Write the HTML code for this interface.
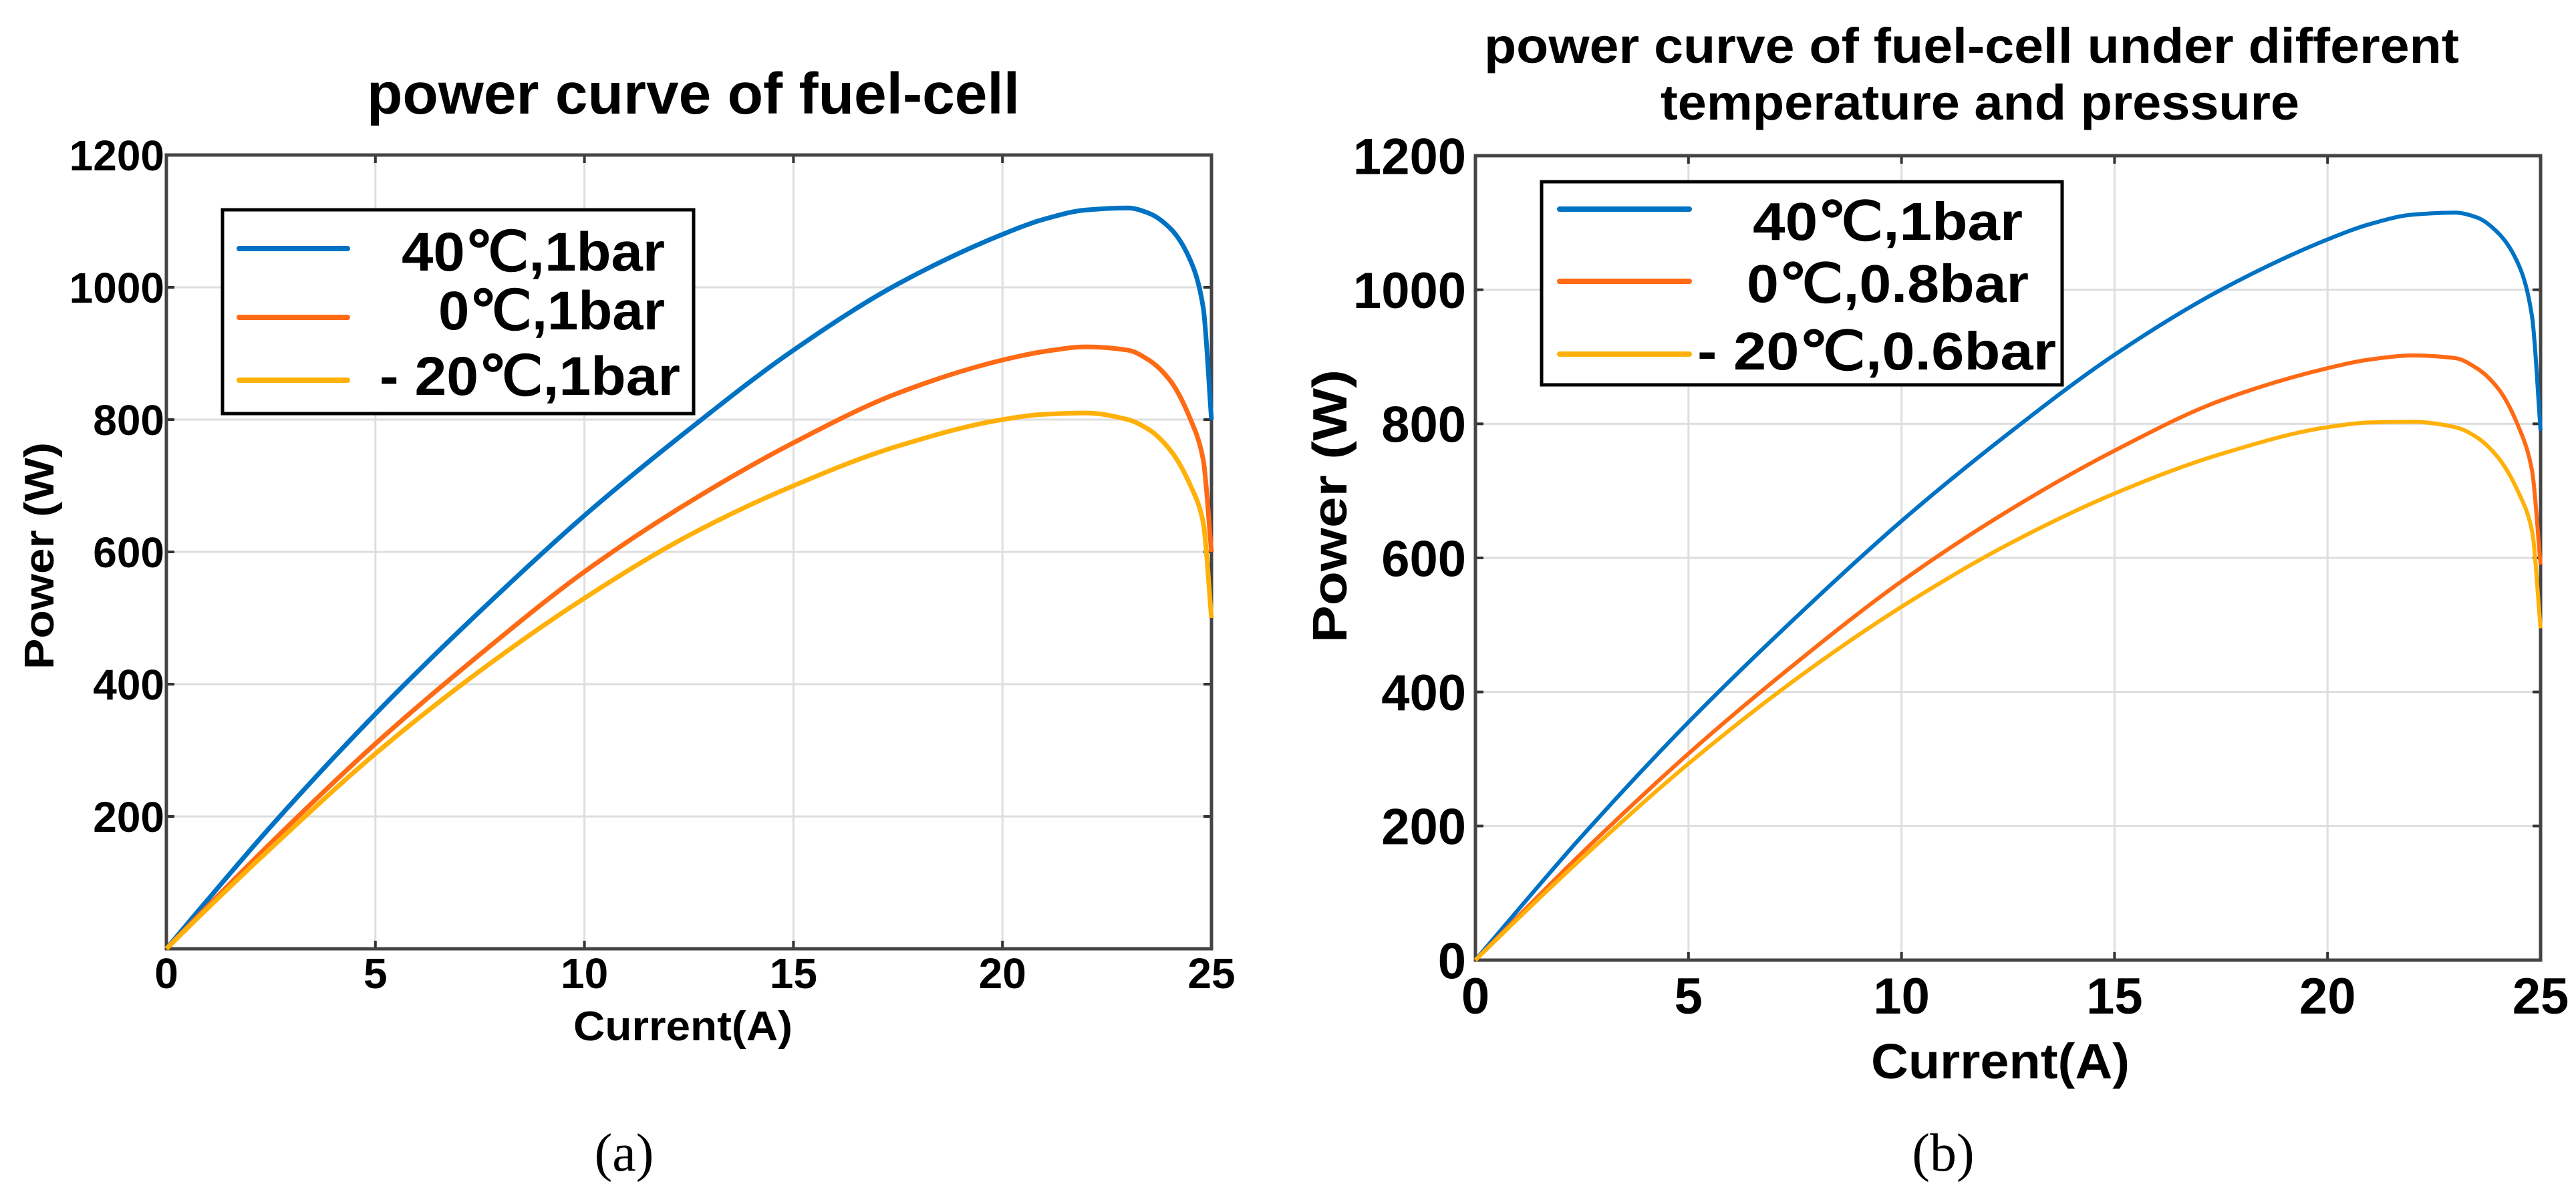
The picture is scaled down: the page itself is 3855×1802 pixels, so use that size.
<!DOCTYPE html>
<html><head><meta charset="utf-8"><style>
html,body{margin:0;padding:0;background:#fff}
svg{display:block}
text{font-family:"Liberation Sans",sans-serif;font-weight:bold;fill:#000}
.serif{font-family:"Liberation Serif",serif;font-weight:normal}
</style></head><body>
<svg id="svg" width="3855" height="1802" viewBox="0 0 3855 1802" xmlns="http://www.w3.org/2000/svg">
<g id="ga"></g>
<g id="gb"></g>
<text class="serif" x="934" y="1752" font-size="80" text-anchor="middle">(a)</text>
<text class="serif" x="2908" y="1752" font-size="80" text-anchor="middle">(b)</text>
</svg>
<script>
const currents = [0,1,2.5,5,7.5,10,12.5,15,17.5,20,21,22,23,23.5,24,24.5,24.8,25];
const seriesA40 = [0,75,185,355,510,655,785,905,1005,1080,1103,1117,1120,1112,1090,1040,970,800];
const seriesA0 = [0,65,160,310,445,570,675,765,840,890,903,910,905,890,860,800,740,600];
const seriesAm20 = [0,62,152,295,420,530,625,700,760,800,808,810,800,785,755,700,645,500];
const seriesB40 = [0,75,185,355,510,655,785,903,1000,1075,1098,1112,1115,1108,1085,1035,960,790];
const seriesB0 = [0,65,160,308,442,565,670,760,835,883,896,902,898,883,853,793,730,590];
const seriesBm20 = [0,62,152,293,418,527,620,696,755,795,802,803,795,780,750,695,640,495];
const xTicks = [0,5,10,15,20,25];
const yTicksA = [200,400,600,800,1000,1200];
const yTicksB = [0,200,400,600,800,1000,1200];
const legendA = ["40℃,1bar","0℃,1bar","- 20℃,1bar"];
const legendB = ["40℃,1bar","0℃,0.8bar","- 20℃,0.6bar"];
const colors = ["#0072c4","#ff6a14","#ffb10a"];
const NS="http://www.w3.org/2000/svg";
function mk(parent,tag,attrs,txt){const e=document.createElementNS(NS,tag);for(const k in attrs)e.setAttribute(k,attrs[k]);if(txt!==undefined)e.textContent=txt;parent.appendChild(e);return e;}
function monotone(xs,ys){
 const n=xs.length,d=[],m=new Array(n);
 for(let i=0;i<n-1;i++)d.push((ys[i+1]-ys[i])/(xs[i+1]-xs[i]));
 m[0]=d[0];m[n-1]=d[n-2];
 for(let i=1;i<n-1;i++){
  if(d[i-1]*d[i]<=0){m[i]=0;}
  else{const h0=xs[i]-xs[i-1],h1=xs[i+1]-xs[i];const w1=2*h1+h0,w2=h1+2*h0;m[i]=(w1+w2)/(w1/d[i-1]+w2/d[i]);}
 }
 return m;}
function curvePath(X,Y,xs,ys){
 const m=monotone(xs,ys);
 let s="M"+X(xs[0]).toFixed(1)+","+Y(ys[0]).toFixed(1);
 for(let i=0;i<xs.length-1;i++){
  const h=xs[i+1]-xs[i];
  const c1x=xs[i]+h/3,c1y=ys[i]+m[i]*h/3,c2x=xs[i+1]-h/3,c2y=ys[i+1]-m[i+1]*h/3;
  s+=" C"+X(c1x).toFixed(1)+","+Y(c1y).toFixed(1)+" "+X(c2x).toFixed(1)+","+Y(c2y).toFixed(1)+" "+X(xs[i+1]).toFixed(1)+","+Y(ys[i+1]).toFixed(1);
 }
 return s;}
function chart(g,cfg){
 const X=v=>cfg.l+(v-0)/25*(cfg.r-cfg.l), Y=v=>cfg.b-(v/1200)*(cfg.b-cfg.t);
 mk(g,"rect",{x:cfg.l,y:cfg.t,width:cfg.r-cfg.l,height:cfg.b-cfg.t,fill:"#fff"});
 xTicks.forEach(v=>{const l=mk(g,"line",{x1:X(v),x2:X(v),y1:cfg.t,y2:cfg.b,stroke:"#dedede","stroke-width":3});
  
  mk(g,"line",{x1:X(v),x2:X(v),y1:cfg.b,y2:cfg.b-12,stroke:"#333","stroke-width":4});
  mk(g,"line",{x1:X(v),x2:X(v),y1:cfg.t,y2:cfg.t+12,stroke:"#333","stroke-width":4});
  const t=mk(g,"text",{x:X(v),y:cfg.xty,"font-size":cfg.tfs,"text-anchor":"middle"},String(v));
  });
 cfg.yt.forEach(v=>{const l=mk(g,"line",{x1:cfg.l,x2:cfg.r,y1:Y(v),y2:Y(v),stroke:"#dedede","stroke-width":3});
  
  mk(g,"line",{x1:cfg.l,x2:cfg.l+12,y1:Y(v),y2:Y(v),stroke:"#333","stroke-width":4});
  mk(g,"line",{x1:cfg.r,x2:cfg.r-12,y1:Y(v),y2:Y(v),stroke:"#333","stroke-width":4});
  const t=mk(g,"text",{x:cfg.ytx,y:Y(v)+cfg.tfs*0.36,"font-size":cfg.tfs,"text-anchor":"end"},String(v));
  });
 const ax=mk(g,"rect",{x:cfg.l,y:cfg.t,width:cfg.r-cfg.l,height:cfg.b-cfg.t,fill:"none",stroke:"#444","stroke-width":5});
 
 cfg.series.forEach((s,i)=>{const p=mk(g,"path",{d:curvePath(X,Y,currents,s),fill:"none",stroke:colors[i],"stroke-width":cfg.lw,"stroke-linejoin":"round"});
  });
 const lg=mk(g,"g",{});
 mk(lg,"rect",{x:cfg.lg[0],y:cfg.lg[1],width:cfg.lg[2]-cfg.lg[0],height:cfg.lg[3]-cfg.lg[1],fill:"#fff",stroke:"#000","stroke-width":5});
 cfg.leg.forEach((s,i)=>{const ln=mk(lg,"line",{x1:cfg.lx[0],x2:cfg.lx[1],y1:cfg.ly[i],y2:cfg.ly[i],stroke:colors[i],"stroke-width":8,"stroke-linecap":"round"});
  
  const t=mk(lg,"text",{x:cfg.ltx[i],y:cfg.lby[i],"font-size":cfg.lfs,textLength:cfg.ltw[i],lengthAdjust:"spacingAndGlyphs"},s);
  });
 cfg.title.forEach((s,i)=>{const t=mk(g,"text",{x:cfg.tx[i],y:cfg.ty[i],"font-size":cfg.tsz,textLength:cfg.tw[i],lengthAdjust:"spacingAndGlyphs"},s);
  });
 const xl=mk(g,"text",{x:cfg.xl[0],y:cfg.xl[1],"font-size":cfg.xl[2],textLength:cfg.xl[3],lengthAdjust:"spacingAndGlyphs"},"Current(A)");
 
 const yl=mk(g,"text",{transform:"translate("+cfg.yl[0]+","+cfg.yl[1]+") rotate(-90)","font-size":cfg.yl[2],textLength:cfg.yl[3],lengthAdjust:"spacingAndGlyphs"},"Power  (W)");
 
}
chart(document.getElementById("ga"),{l:249,r:1813,t:232,b:1420,yt:yTicksA,tfs:64,xty:1479,ytx:246,lw:7,
 series:[seriesA40,seriesA0,seriesAm20],leg:legendA,lg:[333,314,1038,619],lx:[358,520],ly:[372,475,569],
 ltx:[601,656,568],lby:[405,493,591],ltw:[394,339,450],lfs:82,
 title:["power curve of fuel-cell"],tx:[549],ty:[170],tw:[977],tsz:87,
 xl:[858,1557,62,328],yl:[80,1002,62,340]});
chart(document.getElementById("gb"),{l:2208,r:3802,t:233,b:1437,yt:yTicksB,tfs:76,xty:1517,ytx:2194,lw:6,
 series:[seriesB40,seriesB0,seriesBm20],leg:legendB,lg:[2307,272,3086,576],lx:[2334,2528],ly:[313,421,530],
 ltx:[2623,2614,2540],lby:[359,452,553],ltw:[404,422,537],lfs:80,
 title:["power curve of fuel-cell under different","temperature and pressure"],tx:[2221,2485],ty:[94,179],tw:[1459,956],tsz:74,
 xl:[2800,1614,74,387],yl:[2015,962,72,409]});
</script>
</body></html>
